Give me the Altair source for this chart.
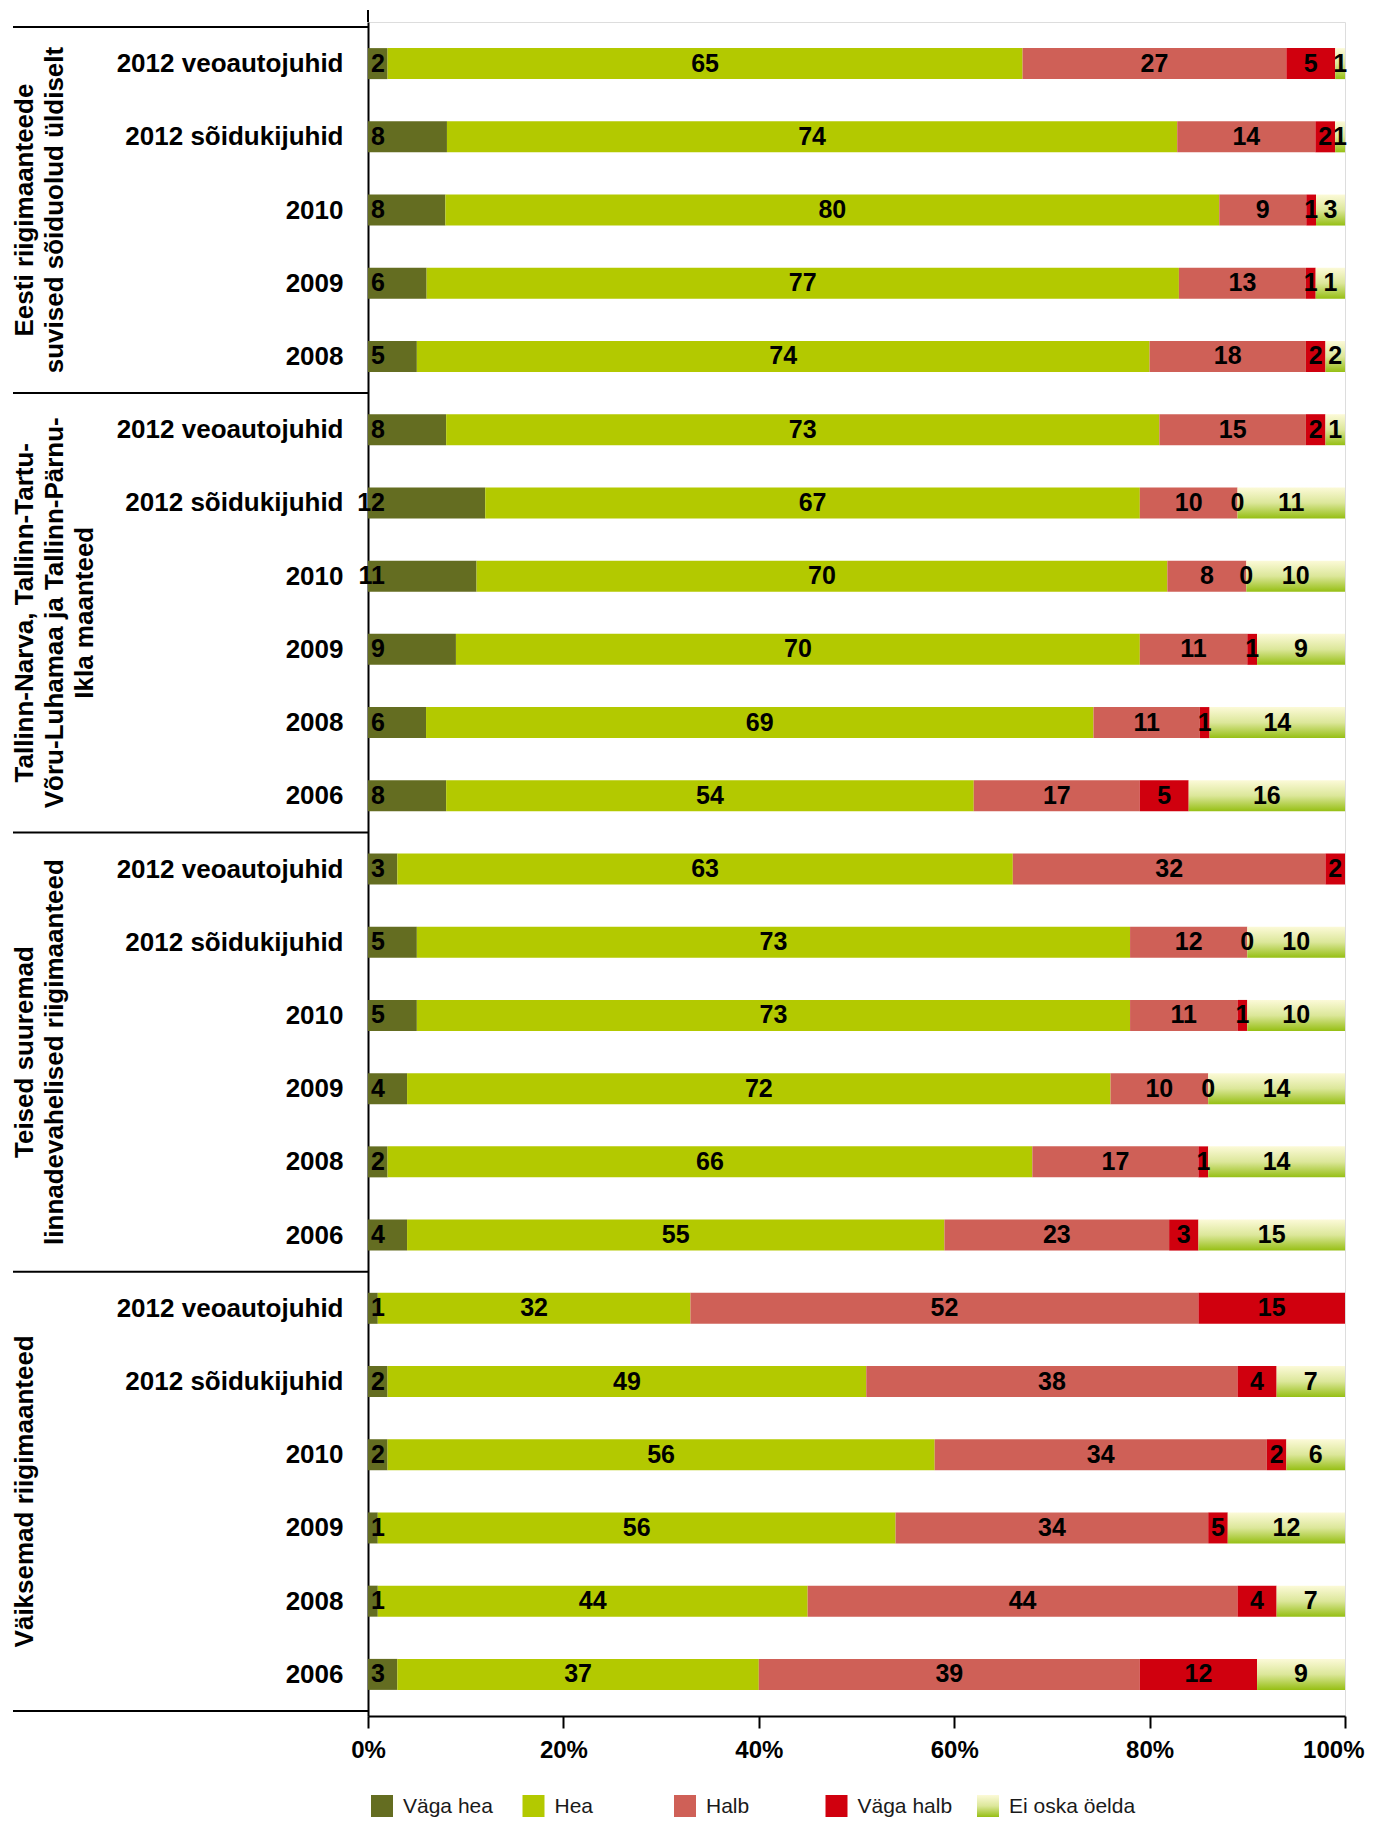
import json
import altair as alt
import pandas as pd

# ---------------- data ----------------
row_labels = [
    "2012 veoautojuhid", "2012 sõidukijuhid", "2010", "2009", "2008",
    "2012 veoautojuhid", "2012 sõidukijuhid", "2010", "2009", "2008", "2006",
    "2012 veoautojuhid", "2012 sõidukijuhid", "2010", "2009", "2008", "2006",
    "2012 veoautojuhid", "2012 sõidukijuhid", "2010", "2009", "2008", "2006",
]
group_names = [
    "Eesti riigimaanteede\nsuvised sõiduolud üldiselt",
    "Tallinn-Narva, Tallinn-Tartu-\nVõru-Luhamaa ja Tallinn-Pärnu-\nIkla maanteed",
    "Teised suuremad\nlinnadevahelised riigimaanteed",
    "Väiksemad riigimaanteed",
]
group_sizes = [5, 6, 6, 6]

categories = ["Väga hea", "Hea", "Halb", "Väga halb", "Ei oska öelda"]

# printed data labels (%)
vaga_hea = [2, 8, 8, 6, 5, 8, 12, 11, 9, 6, 8, 3, 5, 5, 4, 2, 4, 1, 2, 2, 1, 1, 3]
hea = [65, 74, 80, 77, 74, 73, 67, 70, 70, 69, 54, 63, 73, 73, 72, 66, 55, 32, 49, 56, 56, 44, 37]
halb = [27, 14, 9, 13, 18, 15, 10, 8, 11, 11, 17, 32, 12, 11, 10, 17, 23, 52, 38, 34, 34, 44, 39]
vaga_halb = [5, 2, 1, 1, 2, 2, 0, 0, 1, 1, 5, 2, 0, 1, 0, 1, 3, 15, 4, 2, 5, 4, 12]
ei_oska = [1, 1, 3, 1, 2, 1, 11, 10, 9, 14, 16, None, 10, 10, 14, 14, 15, None, 7, 6, 12, 7, 9]

bar_vaga_hea = [2, 8, 8, 6, 5, 8, 12, 11, 9, 6, 8, 3, 5, 5, 4, 2, 4, 1, 2, 2, 1, 1, 3]
bar_hea = [65, 74, 80, 77, 75, 73, 67, 70, 70, 69, 54, 63, 73, 73, 72, 66, 55, 32, 49, 56, 53, 44, 37]
bar_halb = [27, 14, 9, 13, 16, 15, 10, 8, 11, 11, 17, 32, 12, 11, 10, 17, 23, 52, 38, 34, 32, 44, 39]
bar_vaga_halb = [5, 2, 1, 1, 2, 2, 0, 0, 1, 1, 5, 2, 0, 1, 0, 1, 3, 15, 4, 2, 2, 4, 12]
bar_ei_oska = [1, 1, 3, 3, 2, 2, 11, 10, 9, 14, 16, None, 10, 10, 14, 14, 15, None, 7, 6, 12, 7, 9]

colors = ["#646D21", "#B3C900", "#CF6057", "#D0000E", "#C9DC6E"]

label_series = [vaga_hea, hea, halb, vaga_halb, ei_oska]
bar_series = [bar_vaga_hea, bar_hea, bar_halb, bar_vaga_halb, bar_ei_oska]
records = []
for i, lab in enumerate(row_labels):
    for k, cat in enumerate(categories):
        v = bar_series[k][i]
        if v is None:
            continue
        records.append({"idx": i, "label": lab, "cat": cat, "order": k,
                        "share": v, "value": label_series[k][i]})
df = pd.DataFrame(records)

starts = []
s = 0
for n in group_sizes:
    starts.append(s)
    s += n
groups_df = pd.DataFrame({
    "name": group_names,
    "center": [st + (n - 1) / 2 for st, n in zip(starts, group_sizes)],
})
bounds_df = pd.DataFrame({"b": [st - 0.5 for st in starts] + [s - 0.5]})
legend_df = pd.DataFrame({"cat": categories})

FONT = "Liberation Sans, Arial, sans-serif"
N = len(row_labels)

ygrad = alt.Gradient(
    gradient="linear",
    stops=[
        alt.GradientStop(color="#FCFAD8", offset=0),
        alt.GradientStop(color="#DCE79A", offset=0.5),
        alt.GradientStop(color="#96BF14", offset=1),
    ],
    x1=0, x2=0, y1=0, y2=1,
)

label_expr = json.dumps(row_labels, ensure_ascii=False) + "[datum.value]"

yscale = alt.Scale(domain=[-0.5, N - 0.5], reverse=True, nice=False, zero=False)
xscale = alt.Scale(domain=[0, 1], nice=False)

y_enc = alt.Y(
    "idx:Q", scale=yscale,
    axis=alt.Axis(
        values=list(range(N)), labelExpr=label_expr, ticks=False, grid=False,
        domainColor="black", domainWidth=2, labelFont=FONT, labelFontSize=26,
        labelFontWeight="bold", labelColor="black", labelPadding=25, title=None,
        labelOverlap=False, labelLimit=0,
    ),
)

base = alt.Chart(df).transform_stack(
    stack="share", groupby=["idx"], as_=["x0", "x1"], offset="normalize",
    sort=[alt.SortField(field="order", order="ascending")],
).transform_calculate(mid="(datum.x0 + datum.x1) / 2")

x_axis = alt.Axis(
    values=[0, 0.2, 0.4, 0.6, 0.8, 1.0], format=".0%", grid=False,
    domainColor="black", domainWidth=2, tickColor="black", tickWidth=2, tickSize=12,
    labelFont=FONT, labelFontSize=24, labelFontWeight="bold", labelColor="black",
    labelPadding=10, labelFlush=False, title=None,
    labelAlign={"condition": {"test": "datum.value >= 1", "value": "right"}, "value": "center"},
    labelOffset={"condition": {"test": "datum.value >= 1", "value": 19}, "value": 0},
)

bars = base.transform_filter(alt.datum.cat != "Ei oska öelda").mark_bar(size=31).encode(
    x=alt.X("x0:Q", scale=xscale, axis=x_axis),
    x2="x1:Q",
    y=y_enc,
    color=alt.Color("cat:N", scale=alt.Scale(domain=categories, range=colors), legend=None),
)

grad_bars = base.transform_filter(alt.datum.cat == "Ei oska öelda").mark_bar(
    size=31, fill=ygrad
).encode(
    x=alt.X("x0:Q", scale=xscale),
    x2="x1:Q",
    y=alt.Y("idx:Q", scale=yscale),
)

texts = base.transform_filter(alt.datum.cat != "Väga hea").mark_text(
    font=FONT, fontSize=25, fontWeight="bold", color="black", baseline="middle"
).encode(
    x=alt.X("mid:Q", scale=xscale),
    y=alt.Y("idx:Q", scale=yscale),
    text="value:Q",
)

# "Väga hea" labels sit at the start of the bar, right-aligned just past the axis
texts_first = base.transform_filter(alt.datum.cat == "Väga hea").mark_text(
    font=FONT, fontSize=25, fontWeight="bold", color="black", baseline="middle",
    align="right", dx=17,
).encode(
    x=alt.X("x0:Q", scale=xscale),
    y=alt.Y("idx:Q", scale=yscale),
    text="value:Q",
)

seps = alt.Chart(bounds_df).mark_rule(color="black", strokeWidth=2).encode(
    y=alt.Y("b:Q", scale=yscale),
    x=alt.value(-355),
    x2=alt.value(0),
)

axis_top = alt.Chart(bounds_df.head(1)).mark_rule(color="black", strokeWidth=2).encode(
    x=alt.value(0), y=alt.value(-12), y2=alt.value(0),
)

glabels = alt.Chart(groups_df).mark_text(
    font=FONT, fontSize=26, fontWeight="bold", color="black", angle=270,
    align="center", baseline="top", lineBreak="\n", lineHeight=30,
).encode(
    y=alt.Y("center:Q", scale=yscale),
    x=alt.value(-356),
    text="name:N",
)

main = alt.layer(bars, grad_bars, texts, texts_first, seps, axis_top, glabels)

lx = alt.X("cat:N", scale=alt.Scale(domain=categories, type="point", range=[14, 620], padding=0), axis=None)
LEG_Y = 1784

leg_sq = alt.Chart(legend_df).transform_filter(alt.datum.cat != "Ei oska öelda").mark_square(
    size=484, opacity=1
).encode(
    x=lx, y=alt.value(LEG_Y),
    color=alt.Color("cat:N", scale=alt.Scale(domain=categories, range=colors), legend=None),
)
leg_grad = alt.Chart(legend_df).transform_filter(alt.datum.cat == "Ei oska öelda").mark_square(
    size=484, opacity=1, fill=ygrad
).encode(x=lx, y=alt.value(LEG_Y))
leg_txt = alt.Chart(legend_df).mark_text(
    font=FONT, fontSize=21, color="#1a1a1a", align="left", baseline="middle", dx=21
).encode(x=lx, y=alt.value(LEG_Y + 1), text="cat:N")

legend = alt.layer(leg_sq, leg_grad, leg_txt)

chart = alt.layer(main, legend).resolve_scale(x="independent").properties(
    width=977, height=1694,
    autosize=alt.AutoSizeParams(type="none"),
    padding={"left": 360, "top": 14, "right": 20, "bottom": 101},
).configure_view(stroke=None).configure(background="white")

chart.save("out.html", embed_options={"renderer": "svg", "actions": False})
